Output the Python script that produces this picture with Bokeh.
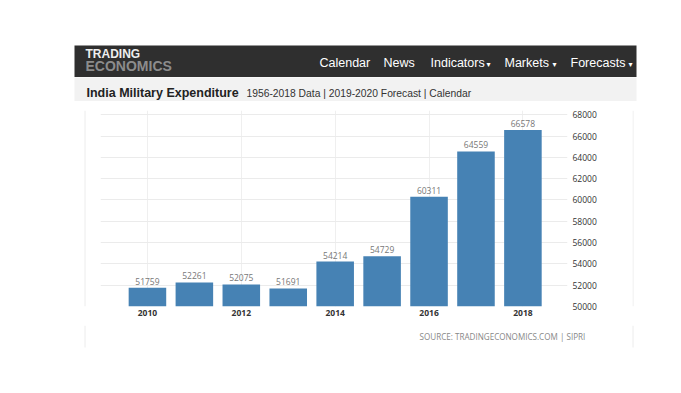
from bokeh.plotting import figure
from bokeh.models import ColumnDataSource, LabelSet, FixedTicker, Range1d
from bokeh.layouts import column, row
from bokeh.core.properties import value
from bokeh.embed import file_html
from bokeh.resources import INLINE

# ---- data ----
years = [2010, 2011, 2012, 2013, 2014, 2015, 2016, 2017, 2018]
expenditure = [51759, 52261, 52075, 51691, 54214, 54729, 60311, 64559, 66578]
x_ticks = [2010, 2012, 2014, 2016, 2018]
y_ticks = [50000, 52000, 54000, 56000, 58000, 60000, 62000, 64000, 66000, 68000]
menu_items = ["Calendar", "News", "Indicators", "Markets", "Forecasts"]
menu_has_caret = [False, False, True, True, True]
brand_top = "TRADING"
brand_bottom = "ECONOMICS"
title_main = "India Military Expenditure"
title_sub = "1956-2018 Data | 2019-2020 Forecast | Calendar"
source_text = "SOURCE: TRADINGECONOMICS.COM | SIPRI"

BORDER = "#ececec"


def canvas_fig(w, h, x0, y0):
    """A figure whose frame covers the whole canvas, in page pixel coords."""
    f = figure(width=w, height=h,
               x_range=Range1d(x0, x0 + w), y_range=Range1d(y0 + h, y0),
               output_backend="svg", toolbar_location=None,
               x_axis_location=None, y_axis_location=None,
               min_border=0, min_border_left=0, min_border_right=0,
               min_border_top=0, min_border_bottom=0)
    f.outline_line_color = None
    f.grid.visible = False
    f.background_fill_color = "white"
    f.border_fill_color = "white"
    return f


def txt(f, xs, ys, texts, size, color, font="Liberation Sans", style="normal",
        align="left"):
    f.text(x=xs, y=ys, text=texts, text_font=value(font),
           text_font_size=value(size), text_font_style=value(style),
           text_color=color, text_align=align, text_baseline="middle")


# ---- header (page y 0..101) ----
hdr = canvas_fig(665, 101, 0, 0)
hdr.quad(left=[74, 74], right=[636, 636], top=[45, 77], bottom=[76.5, 101],
         fill_color=["#2f2f2f", "#f2f2f2"], line_color=None)
txt(hdr, [85], [53.5], [brand_top], "12px", "#eeeeee", style="bold")
txt(hdr, [85], [65], [brand_bottom], "14px", "#8c8c8c", style="bold")
menu_x = [319, 383, 430, 504, 570]
txt(hdr, menu_x, [62.5] * len(menu_items), menu_items, "12.5px", "#ffffff")
caret_x = [486, 552, 628]
txt(hdr, caret_x, [63.5] * 3,
    ["\u25be" for h in menu_has_caret if h], "8px", "#ffffff", font="DejaVu Sans")
txt(hdr, [86], [92], [title_main], "12.5px", "#222222", style="bold")
txt(hdr, [246], [92.5], [title_sub], "10.3px", "#333333")

# ---- side strips (page y 101..325) ----
left_strip = canvas_fig(100, 224, 0, 101)
left_strip.segment(x0=[84.5], y0=[101], x1=[84.5], y1=[325],
                   line_color=BORDER, line_width=1)
right_strip = canvas_fig(33, 224, 632, 101)
right_strip.segment(x0=[632.5], y0=[101], x1=[632.5], y1=[325],
                    line_color=BORDER, line_width=1)

# ---- chart (page x 100..632, y 101..325) ----
p = figure(width=532, height=224,
           x_range=Range1d(2009.0, 2018.95), y_range=Range1d(50000, 68400),
           output_backend="svg", toolbar_location=None,
           y_axis_location="right",
           min_border_left=0, min_border_right=65,
           min_border_top=9, min_border_bottom=19)
p.outline_line_color = None
p.background_fill_color = "white"
p.border_fill_color = "white"

src = ColumnDataSource(dict(x=years, y=expenditure,
                            label=[str(v) for v in expenditure]))
p.vbar(x="x", top="y", bottom=50000, width=0.8, source=src,
       fill_color="#4682b4", line_color=None)
p.add_layout(LabelSet(x="x", y="y", text="label", source=src,
                      text_align="center", text_baseline="bottom", y_offset=3,
                      text_font=value("Open Sans"), text_font_size="8.5px",
                      text_color="#777777"))

for ax in (p.xaxis[0], p.yaxis[0]):
    ax.axis_line_color = None
    ax.major_tick_line_color = None
    ax.minor_tick_line_color = None
    ax.major_tick_in = 0
    ax.major_tick_out = 0
    ax.minor_tick_in = 0
    ax.minor_tick_out = 0
    ax.major_label_text_font = "Open Sans"
    ax.major_label_text_font_size = "8.5px"
    ax.major_label_text_color = "#333333"

p.xaxis[0].ticker = FixedTicker(ticks=x_ticks)
p.xaxis[0].major_label_text_font_style = "bold"
p.xaxis[0].major_label_standoff = 3
p.yaxis[0].ticker = FixedTicker(ticks=y_ticks)
p.yaxis[0].major_label_standoff = 5
p.yaxis[0].formatter.use_scientific = False

p.xgrid.ticker = FixedTicker(ticks=x_ticks)
p.ygrid.ticker = FixedTicker(ticks=y_ticks)
p.xgrid.grid_line_color = "#efefef"
p.ygrid.grid_line_color = "#ebebeb"

# ---- footer (page y 325..365) ----
ftr = canvas_fig(665, 40, 0, 325)
ftr.segment(x0=[84.5, 632.5], y0=[325, 325], x1=[84.5, 632.5], y1=[347, 347],
            line_color=BORDER, line_width=1)
txt(ftr, [419], [336], [source_text], "8.1px", "#888888", font="Open Sans")

layout = column(hdr, row(left_strip, p, right_strip), ftr)
open("out.html", "w").write(file_html(layout, INLINE))
